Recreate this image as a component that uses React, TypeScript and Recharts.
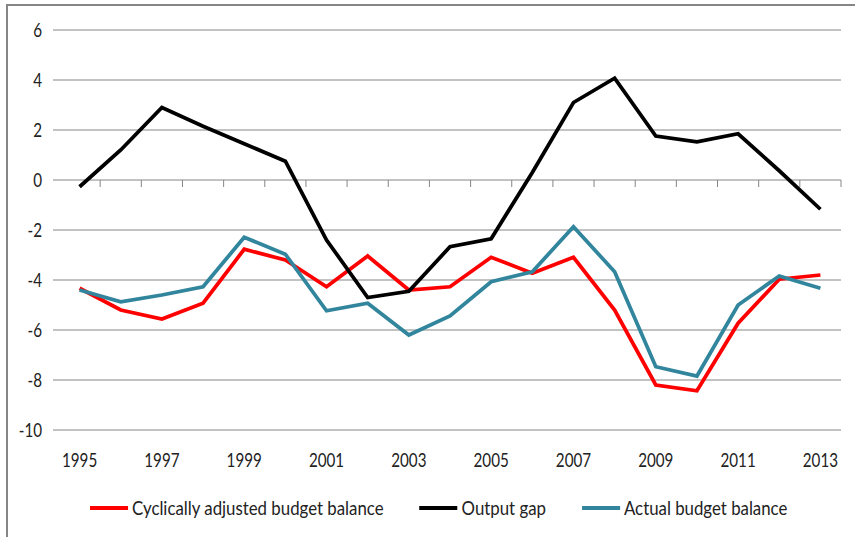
import React from "react";
import {
  LineChart,
  Line,
  XAxis,
  YAxis,
  CartesianGrid,
  Legend,
} from "recharts";

const years = [
  "1995", "1996", "1997", "1998", "1999", "2000", "2001", "2002", "2003", "2004",
  "2005", "2006", "2007", "2008", "2009", "2010", "2011", "2012", "2013",
];

const cyclicallyAdjusted = [
  -4.33, -5.2, -5.56, -4.93, -2.77, -3.2, -4.27, -3.04, -4.4, -4.27,
  -3.09, -3.73, -3.09, -5.2, -8.2, -8.43, -5.73, -3.97, -3.8,
];

const outputGap = [
  -0.27, 1.2, 2.9, 2.15, 1.45, 0.75, -2.4, -4.7, -4.45, -2.67,
  -2.35, 0.3, 3.1, 4.07, 1.76, 1.53, 1.85, 0.37, -1.17,
];

const actualBalance = [
  -4.4, -4.87, -4.6, -4.27, -2.29, -2.97, -5.23, -4.93, -6.2, -5.44,
  -4.07, -3.67, -1.87, -3.67, -7.47, -7.84, -5.0, -3.84, -4.33,
];

const yTicks = [-10, -8, -6, -4, -2, 0, 2, 4, 6];

const seriesNames = [
  "Cyclically adjusted budget balance",
  "Output gap",
  "Actual budget balance",
];

const data = years.map((year, i) => ({
  year,
  cab: cyclicallyAdjusted[i],
  gap: outputGap[i],
  actual: actualBalance[i],
}));

const FONT = "Lato, 'Liberation Sans', sans-serif";
const FS = 19;
const SX = 0.8; // squeeze axis text horizontally, the original font is narrow
const LSX = 0.885; // same for legend text
const TEXT = "#222";
const GRID = "#868686";

const W = 855;
const H = 537;
const PLOT_LEFT = 53;
const PLOT_TOP = 30;
const PLOT_RIGHT = 841;
const PLOT_BOTTOM = 430;
const PAD_LEFT = 6;
const X_AXIS_H = 50;

const zeroY = PLOT_TOP + (6 / 16) * (PLOT_BOTTOM - PLOT_TOP);
const band = (PLOT_RIGHT - PLOT_LEFT - PAD_LEFT) / years.length;

function YearTick(props: any) {
  const { x, y, payload } = props;
  const show = (Number(payload.value) - 1995) % 2 === 0;
  return (
    <g>
      <line
        x1={x + band / 2}
        x2={x + band / 2}
        y1={zeroY}
        y2={zeroY + 7}
        stroke={GRID}
        strokeWidth={1}
      />
      {show && (
        <text
          transform={`translate(${x},${y + 37}) scale(${SX},1)`}
          textAnchor="middle"
          fill={TEXT}
          fontSize={FS}
          fontFamily={FONT}
        >
          {payload.value}
        </text>
      )}
    </g>
  );
}

function ValueTick(props: any) {
  const { x, y, payload } = props;
  return (
    <text
      transform={`translate(${x},${y}) scale(${SX},1)`}
      dy="0.36em"
      textAnchor="end"
      fill={TEXT}
      fontSize={FS}
      fontFamily={FONT}
    >
      {payload.value}
    </text>
  );
}

function LegendContent(props: any) {
  const items = [...(props.payload || [])].sort(
    (a: any, b: any) => seriesNames.indexOf(a.value) - seriesNames.indexOf(b.value)
  );
  return (
    <div style={{ height: 0, position: "relative" }}>
      <div
        style={{
          position: "absolute",
          left: 90,
          top: 0,
          display: "flex",
          alignItems: "center",
          gap: 36 / LSX,
          whiteSpace: "nowrap",
          transform: `scaleX(${LSX})`,
          transformOrigin: "0 0",
        }}
      >
        {items.map((it: any) => (
          <div key={it.value} style={{ display: "flex", alignItems: "center" }}>
            <div
              style={{
                width: 38 / LSX,
                height: 4,
                background: it.color,
                marginRight: 4 / LSX,
              }}
            />
            <span style={{ fontFamily: FONT, fontSize: FS, color: TEXT }}>
              {it.value}
            </span>
          </div>
        ))}
      </div>
    </div>
  );
}

export default function App() {
  return (
    <div style={{ position: "absolute", left: 0, top: 0, width: W, height: H, background: "#fff" }}>
      <div
        style={{
          position: "absolute",
          left: 6,
          top: 4,
          width: W - 6,
          height: H - 4,
          borderTop: `2px solid ${GRID}`,
          borderLeft: `2px solid ${GRID}`,
          boxSizing: "border-box",
        }}
      />
      <div style={{ position: "absolute", left: 0, top: 0 }}>
        <LineChart
          width={W}
          height={H}
          data={data}
          margin={{
            top: PLOT_TOP,
            right: W - PLOT_RIGHT,
            left: 0,
            bottom: H - PLOT_BOTTOM - X_AXIS_H,
          }}
        >
          <CartesianGrid vertical={false} stroke={GRID} strokeWidth={1} />
          <XAxis
            dataKey="year"
            interval={0}
            tickLine={false}
            axisLine={false}
            tickSize={0}
            tickMargin={0}
            height={X_AXIS_H}
            padding={{ left: PAD_LEFT + band / 2, right: band / 2 }}
            tick={<YearTick />}
          />
          <YAxis
            domain={[-10, 6]}
            ticks={yTicks}
            width={PLOT_LEFT}
            tickLine={false}
            axisLine={false}
            tickSize={0}
            tickMargin={11}
            tick={<ValueTick />}
          />
          <Legend
            content={<LegendContent />}
            wrapperStyle={{ left: 0, top: 496, width: W, height: 0 }}
          />
          <Line
            type="linear"
            dataKey="cab"
            name={seriesNames[0]}
            stroke="#ff0000"
            strokeWidth={3.75}
            dot={false}
            isAnimationActive={false}
          />
          <Line
            type="linear"
            dataKey="gap"
            name={seriesNames[1]}
            stroke="#000000"
            strokeWidth={3.75}
            dot={false}
            isAnimationActive={false}
          />
          <Line
            type="linear"
            dataKey="actual"
            name={seriesNames[2]}
            stroke="#31859c"
            strokeWidth={3.75}
            dot={false}
            isAnimationActive={false}
          />
        </LineChart>
      </div>
    </div>
  );
}
